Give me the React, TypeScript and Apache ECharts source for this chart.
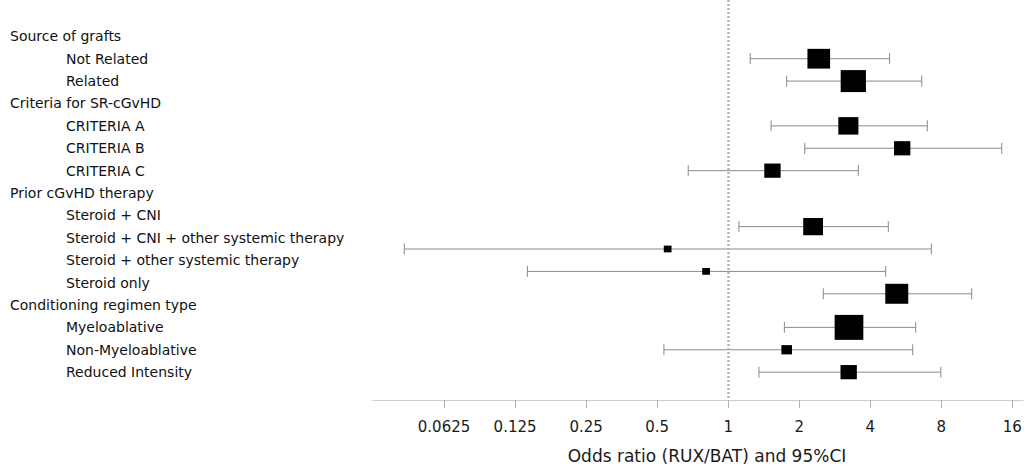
import React, { useEffect, useRef } from "react";
import * as echarts from "echarts";

// Row labels (one per row on the left)
const rowLabels = [
  "Source of grafts",
  "Not Related",
  "Related",
  "Criteria for SR-cGvHD",
  "CRITERIA A",
  "CRITERIA B",
  "CRITERIA C",
  "Prior cGvHD therapy",
  "Steroid + CNI",
  "Steroid + CNI + other systemic therapy",
  "Steroid + other systemic therapy",
  "Steroid only",
  "Conditioning regimen type",
  "Myeloablative",
  "Non-Myeloablative",
  "Reduced Intensity",
];
const rowIsHeader = [true, false, false, true, false, false, false, true, false, false, false, false, true, false, false, false];

// Estimates (row position in label units, as drawn in the reference)
const estRow = [1, 2, 4, 5, 6, 8.5, 9.5, 10.5, 11.5, 13, 14, 15];
const oddsRatio = [2.42, 3.39, 3.23, 5.46, 1.54, 2.29, 0.554, 0.806, 5.18, 3.25, 1.77, 3.24];
const ciLow = [1.24, 1.77, 1.52, 2.11, 0.677, 1.11, 0.0424, 0.141, 2.53, 1.73, 0.534, 1.35];
const ciHigh = [4.83, 6.61, 6.98, 14.43, 3.56, 4.77, 7.26, 4.65, 10.76, 6.23, 6.05, 7.96];
const weight = [79, 88, 70, 57, 57, 69, 27, 27, 80, 100, 37, 57];

const tickValues = [0.0625, 0.125, 0.25, 0.5, 1, 2, 4, 8, 16];

const FONT = "DejaVu Sans";

export default function App() {
  const ref = useRef<HTMLDivElement>(null);
  useEffect(() => {
    if (!ref.current) return;
    const chart = echarts.init(ref.current, null, { renderer: "svg" });
    const data = oddsRatio.map((or, i) => [
      Math.log2(ciLow[i]),
      Math.log2(ciHigh[i]),
      Math.log2(or),
      estRow[i],
      weight[i],
    ]);
    const tickLog = tickValues.map((t) => Math.log2(t));
    chart.setOption({
      animation: false,
      backgroundColor: "#ffffff",
      grid: { left: 373, right: 7, top: 0, bottom: 67, containLabel: false },
      xAxis: {
        type: "value",
        position: "bottom",
        min: -5,
        max: 4.15,
        splitLine: { show: false },
        axisLine: { show: true, onZero: false, lineStyle: { color: "#cccccc", width: 1 } },
        axisTick: { show: true, length: 8, customValues: tickLog, lineStyle: { color: "#b0b0b0" } },
        axisLabel: {
          customValues: tickLog,
          margin: 19,
          fontFamily: FONT,
          fontSize: 15,
          color: "#1a1a1a",
          formatter: (v: number) => String(Math.round(Math.pow(2, v) * 10000) / 10000),
        },
        name: "Odds ratio (RUX/BAT) and 95%CI",
        nameLocation: "middle",
        nameGap: 47,
        nameTextStyle: { fontFamily: FONT, fontSize: 17, color: "#1a1a1a", padding: [0, 0, 0, 18] },
      },
      yAxis: {
        type: "value",
        inverse: true,
        min: -1.622,
        max: 16.244,
        splitLine: { show: false },
        axisLine: { show: false },
        axisTick: { show: false },
        axisLabel: {
          customValues: rowLabels.map((_, i) => i),
          align: "left",
          margin: 363,
          fontFamily: FONT,
          fontSize: 14,
          color: "#111111",
          formatter: (v: number) => {
            const i = Math.round(v);
            return rowIsHeader[i] ? `{h|${rowLabels[i]}}` : `{i|${rowLabels[i]}}`;
          },
          rich: {
            h: { fontFamily: FONT, fontSize: 14, color: "#111111" },
            i: { fontFamily: FONT, fontSize: 14, color: "#111111", padding: [0, 0, 0, 56] },
          },
        },
      },
      series: [
        {
          type: "custom",
          data,
          encode: { x: [0, 1, 2], y: 3 },
          renderItem: (params: any, api: any) => {
            const y = api.value(3);
            const lo = api.coord([api.value(0), y]);
            const hi = api.coord([api.value(1), y]);
            const c = api.coord([api.value(2), y]);
            const w = (api.value(4) / 100) * 28.7;
            const h = w * 0.87;
            const ls = { stroke: "#8a8a8a", lineWidth: 1 };
            return {
              type: "group",
              children: [
                { type: "line", shape: { x1: lo[0], y1: lo[1], x2: hi[0], y2: hi[1] }, style: ls },
                { type: "line", shape: { x1: lo[0], y1: lo[1] - 5.5, x2: lo[0], y2: lo[1] + 5.5 }, style: ls },
                { type: "line", shape: { x1: hi[0], y1: hi[1] - 5.5, x2: hi[0], y2: hi[1] + 5.5 }, style: ls },
                { type: "rect", shape: { x: c[0] - w / 2, y: c[1] - h / 2, width: w, height: h }, style: { fill: "#000000" } },
              ],
            };
          },
          markLine: {
            silent: true,
            symbol: "none",
            label: { show: false },
            lineStyle: { color: "#b4b4b4", width: 2.5, type: [2, 2] },
            data: [{ xAxis: 0 }],
          },
          z: 2,
        },
      ],
    });
    return () => chart.dispose();
  }, []);
  return (
    <div
      ref={ref}
      style={{ position: "fixed", left: 0, top: 0, width: 1030, height: 469, background: "#fff" }}
    />
  );
}
